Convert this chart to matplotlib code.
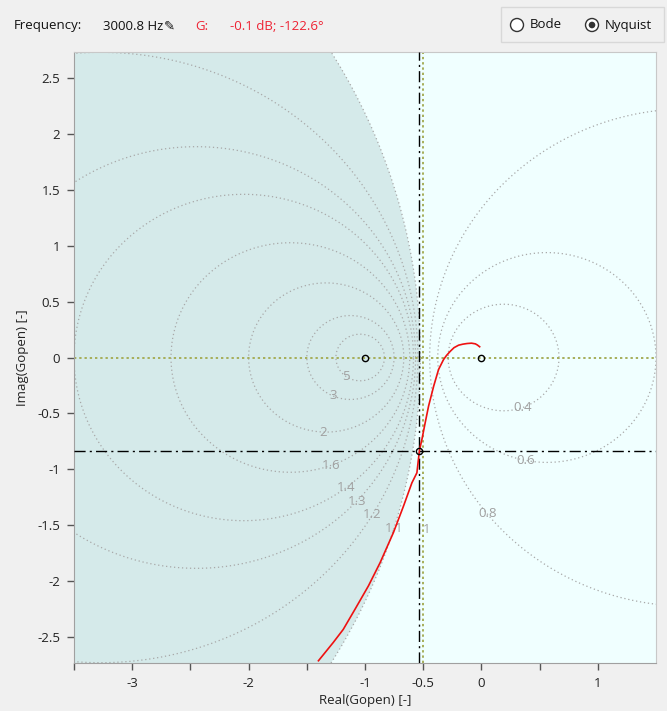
import numpy as np
import matplotlib
matplotlib.use("Agg")
import matplotlib.pyplot as plt
from matplotlib.patches import Circle, Rectangle

plt.rcParams['font.family'] = ['Open Sans', 'DejaVu Sans']

# ---------------- data ----------------
m_circles = [5, 3, 2, 1.6, 1.4, 1.3, 1.2, 1.1, 0.8, 0.6, 0.4]
m_labels = ["5", "3", "2", "1.6", "1.4", "1.3", "1.2", "1.1", "0.8", "0.6", "0.4"]
m_label_angle = [-125, -114, -92, -70, -53, -43, -31, -17, -141, -101, -70]

nyq_re = [-0.015, -0.035, -0.052, -0.085, -0.123, -0.160, -0.196, -0.235, -0.267,
          -0.300, -0.325, -0.368, -0.41, -0.454, -0.483, -0.511, -0.532, -0.554,
          -0.597, -0.67, -0.756, -0.87, -0.97, -1.086, -1.187, -1.273, -1.40]
nyq_im = [0.096, 0.112, 0.122, 0.128, 0.125, 0.119, 0.11, 0.088, 0.056,
          0.018, -0.018, -0.107, -0.256, -0.435, -0.583, -0.732, -0.828, -1.03,
          -1.12, -1.33, -1.565, -1.833, -2.04, -2.25, -2.43, -2.547, -2.71]

freq_text = "3000.8 Hz"
gain_db = -0.1
phase_deg = -122.6

x_ticks = [-3.5, -3, -2.5, -2, -1.5, -1, -0.5, 0, 0.5, 1]
x_ticklabels = ["", "-3", "", "-2", "", "-1", "-0.5", "0", "", "1"]
y_ticks = [-2.5, -2, -1.5, -1, -0.5, 0, 0.5, 1, 1.5, 2, 2.5]
y_ticklabels = ["-2.5", "-2", "-1.5", "-1", "-0.5", "0", "0.5", "1", "1.5", "2", "2.5"]

# ---------------- figure ----------------
W, H = 667, 711
fig = plt.figure(figsize=(W / 100, H / 100), dpi=100)
fig.patch.set_facecolor("#f0f0f0")

L, R, T, B = 74, 656, 52, 663
ax = fig.add_axes([L / W, 1 - B / H, (R - L) / W, (B - T) / H])
ax.set_xlim(-3.5, 1.5)
ax.set_ylim(-2.73, 2.73)
ax.set_facecolor("#f0ffff")

grey = "#a8a8a8"
th = np.linspace(0, 2 * np.pi, 720)

def mcircle(M):
    c = -M ** 2 / (M ** 2 - 1)
    r = abs(M / (M ** 2 - 1))
    return c, r

# shaded region inside M=1.1 circle
c11, r11 = mcircle(1.1)
ax.add_patch(Circle((c11, 0), r11, facecolor="#d5eaea", edgecolor="none", zorder=0))

for M, lab, ang in zip(m_circles, m_labels, m_label_angle):
    c, r = mcircle(M)
    ax.plot(c + r * np.cos(th), r * np.sin(th), linestyle=(0, (1, 2.2)),
            color=grey, lw=0.9, zorder=1)
    a = np.deg2rad(ang)
    ax.text(c + r * np.cos(a), r * np.sin(a), lab, color="#a0a0a0", fontsize=9.5,
            ha="center", va="center", zorder=2)

# M = 1 line label
ax.text(-0.5, -1.54, "1", color="#a0a0a0", fontsize=9.5, ha="left", va="center", zorder=2)

# olive dotted axes lines
olive = "#a6ae5a"
ax.axhline(0, color=olive, linestyle=(0, (1.2, 1.5)), lw=1.4, zorder=2)
ax.axvline(-0.5, color=olive, linestyle=(0, (1.2, 1.5)), lw=1.4, zorder=2)

# crosshair at current point
mag = 10 ** (gain_db / 20)
px = mag * np.cos(np.deg2rad(phase_deg))
py = mag * np.sin(np.deg2rad(phase_deg))
ax.axvline(px, color="black", linestyle=(0, (8, 3, 1.5, 3)), lw=1.0, zorder=3)
ax.axhline(py, color="black", linestyle=(0, (8, 3, 1.5, 3)), lw=1.0, zorder=3)

# nyquist curve
ax.plot(nyq_re, nyq_im, color="#ee1111", lw=1.2, zorder=4, solid_joinstyle="round")

# markers
ax.plot([-1, 0, px], [0, 0, py], linestyle="none", marker="o", ms=4.5,
        mfc="none", mec="black", mew=1.0, zorder=5)

ax.set_xticks(x_ticks)
ax.set_xticklabels(x_ticklabels)
ax.set_yticks(y_ticks)
ax.set_yticklabels(y_ticklabels)
ax.tick_params(direction="out", length=5, width=1, color="#555555",
               labelsize=9.5, labelcolor="#222222")
ax.tick_params(axis="x", pad=5)
ax.tick_params(axis="y", pad=5)
for s in ["left", "bottom"]:
    ax.spines[s].set_color("#a0a0a0")
for s in ["top", "right"]:
    ax.spines[s].set_color("#c8c8c8")
ax.set_xlabel("Real(Gopen) [-]", fontsize=9.5, color="#222222", labelpad=3)
ax.set_ylabel("Imag(Gopen) [-]", fontsize=9.5, color="#222222", labelpad=6)

# ---------------- header overlay ----------------
ov = fig.add_axes([0, 0, 1, 1], zorder=10)
ov.set_xlim(0, W)
ov.set_ylim(H, 0)
ov.axis("off")
ov.patch.set_alpha(0)

red = "#ee2233"
ov.text(14, 26, "Frequency:", fontsize=9.5, color="#111111", va="center")
ov.text(103, 26, freq_text, fontsize=9.5, color="#111111", va="center")
ov.text(164, 26, "\u270e", fontsize=9.5, color="#111111", va="center",
        family=["DejaVu Sans"])
ov.text(195, 26, "G:", fontsize=9.5, color=red, va="center")
ov.text(230, 26, f"{gain_db:.1f} dB; {phase_deg:.1f}\u00b0", fontsize=9.5,
        color=red, va="center")

ov.add_patch(Rectangle((501, 7), 163, 35, facecolor="#f0f0f0",
                       edgecolor="#d8d8d8", lw=1))
ov.add_patch(Circle((517, 25), 6.5, facecolor="white", edgecolor="#333333", lw=1))
ov.text(530, 25, "Bode", fontsize=9.5, color="#111111", va="center")
ov.add_patch(Circle((592, 25), 6.5, facecolor="white", edgecolor="#333333", lw=1))
ov.add_patch(Circle((592, 25), 3.3, facecolor="#333333", edgecolor="none"))
ov.text(605, 25, "Nyquist", fontsize=9.5, color="#111111", va="center")

fig.savefig("out.png", dpi=100, facecolor=fig.get_facecolor())
